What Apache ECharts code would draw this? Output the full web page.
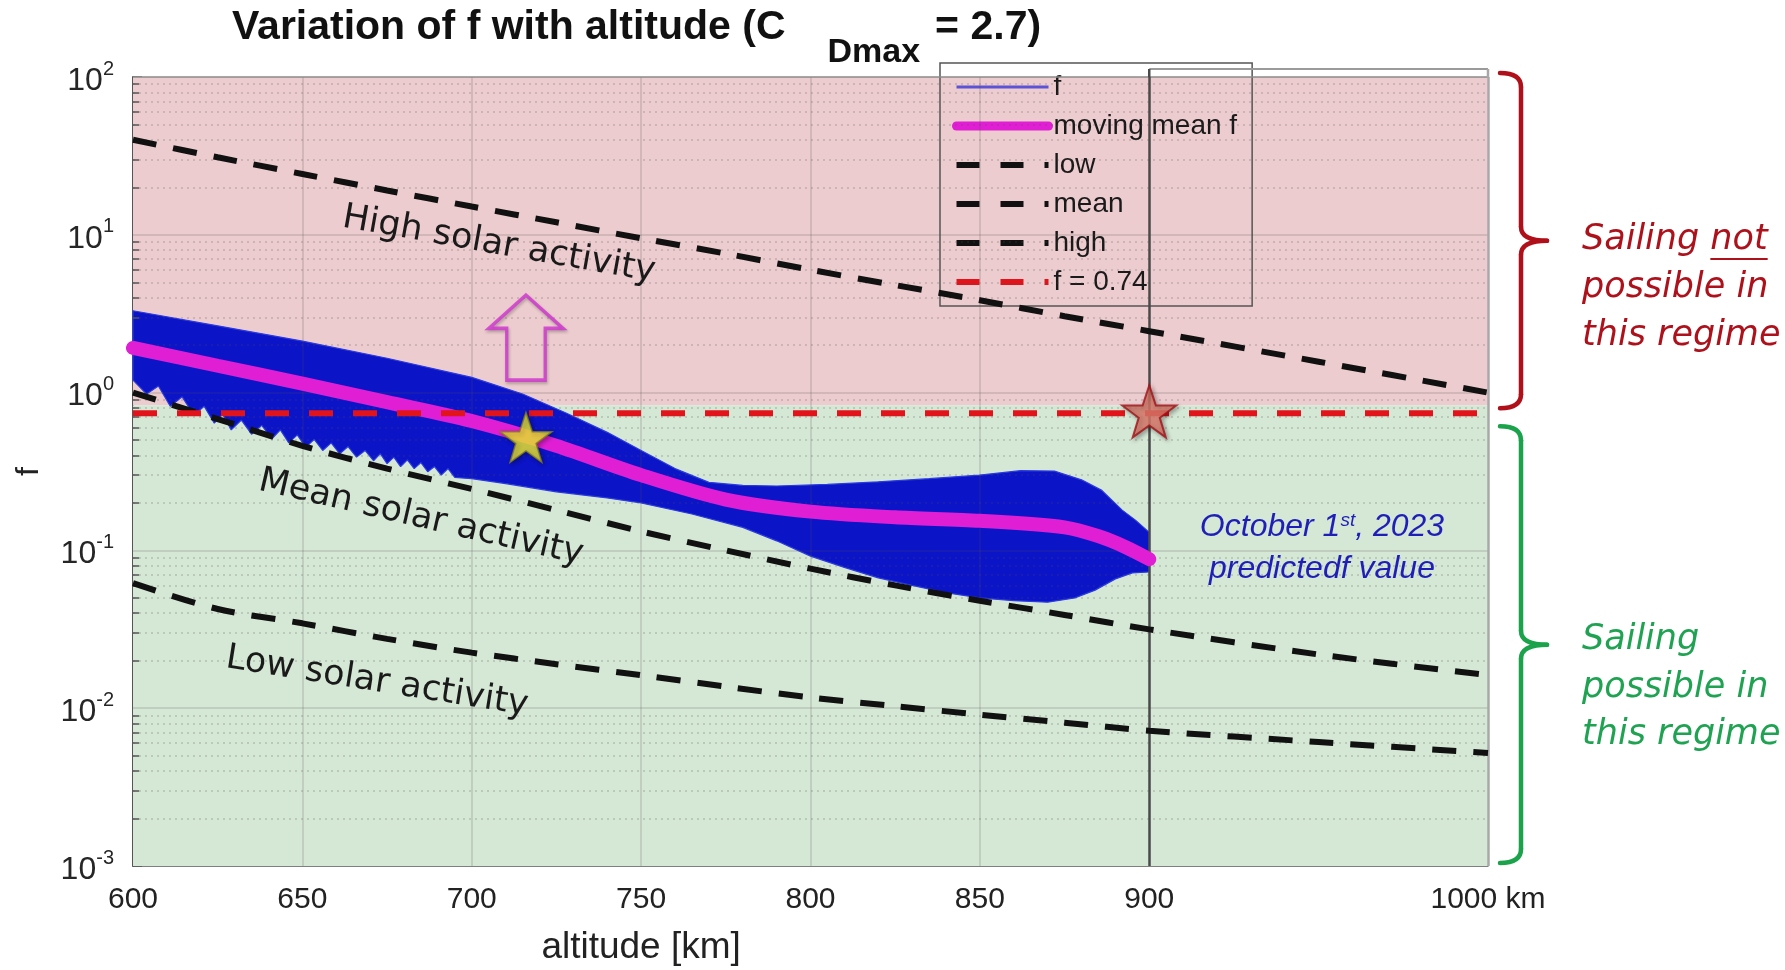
<!DOCTYPE html>
<html>
<head>
<meta charset="utf-8">
<title>Variation of f with altitude</title>
<script src="https://cdn.jsdelivr.net/npm/echarts@6/dist/echarts.min.js"></script>
<style>
  html, body { margin: 0; padding: 0; background: #ffffff; }
  #chart { width: 1785px; height: 970px; }
</style>
</head>
<body>
<div id="chart"></div>
<script>
// ---- values ----
// solar activity reference curves
const altSteps     = [600, 625, 650, 675, 700, 725, 750, 775, 800, 825, 850, 875, 900, 950, 1000];
const lowActivity  = [0.062, 0.0425, 0.0345, 0.0275, 0.0225, 0.019, 0.0162, 0.0137, 0.0117, 0.0103, 0.0091, 0.0081, 0.0072, 0.0061, 0.0052];
const meanActivity = [1.0, 0.68, 0.46, 0.33, 0.245, 0.18, 0.132, 0.100, 0.0766, 0.060, 0.048, 0.039, 0.0316, 0.0219, 0.0162];
const highActivity = [40, 31, 24.3, 19.1, 15.1, 12.0, 9.5, 7.6, 6.0, 4.8, 3.85, 3.05, 2.45, 1.57, 1.0];

// moving mean of f
const meanAlt     = [600, 625, 650, 675, 700, 725, 750, 775, 800, 825, 850, 875, 885, 893, 900];
const movingMeanF = [1.92, 1.48, 1.14, 0.87, 0.66, 0.46, 0.30, 0.21, 0.176, 0.162, 0.154, 0.14, 0.123, 0.105, 0.088];

// envelope of the oscillating f signal: upper edge, then lower edge with its teeth
const bandUpperAlt = [600, 625, 650, 675, 700, 715, 728, 740, 750, 760, 770, 780, 790, 805, 820, 835, 850, 862, 872, 880, 886, 892, 896, 900];
const bandUpper    = [3.3, 2.65, 2.12, 1.65, 1.25, 0.98, 0.74, 0.56, 0.43, 0.33, 0.27, 0.258, 0.256, 0.262, 0.272, 0.285, 0.30, 0.32, 0.318, 0.28, 0.24, 0.18, 0.155, 0.13];
const bandLowerAlt = [600, 604, 607.5, 611, 614.5, 618, 621, 624, 626.5, 629, 632, 635, 638, 641, 643.5, 646, 648.5, 651, 653.5, 656,
                      658.5, 661, 663.5, 666, 668.5, 671, 673, 675, 677, 679, 681, 683, 685, 687, 689, 691, 693, 695, 700, 710,
                      725, 740, 750, 765, 780, 790, 800, 810, 820, 830, 840, 850, 860, 870, 878, 884, 890, 895, 900];
const bandLower    = [1.2, 0.98, 1.10, 0.82, 0.94, 0.72, 0.82, 0.64, 0.73, 0.58, 0.67, 0.545, 0.62, 0.51, 0.58, 0.48, 0.54, 0.45, 0.505, 0.43,
                      0.48, 0.41, 0.455, 0.39, 0.43, 0.37, 0.41, 0.355, 0.39, 0.34, 0.375, 0.33, 0.36, 0.315, 0.34, 0.30, 0.33, 0.29, 0.285, 0.265,
                      0.235, 0.215, 0.2, 0.17, 0.14, 0.115, 0.092, 0.078, 0.067, 0.06, 0.054, 0.05, 0.048, 0.047, 0.05, 0.056, 0.066, 0.072, 0.073];

const fThreshold  = 0.74;   // f = 0.74 line
const regimeSplit = 0.83;   // where the shading turns from red to green
const yellowStar  = [716, 0.52];
const redStar     = [900, 0.76];
const upArrow     = [716, 2.23];

// axes
const xTicks     = [600, 650, 700, 750, 800, 850, 900, 1000];
const xGridAt    = [650, 700, 750, 800, 850];
const majorGridY = [0.01, 0.1, 1, 10];
const decades    = [0.001, 0.01, 0.1, 1, 10];
const minorMul   = [2, 3, 4, 5, 6, 7, 8, 9];

const sans  = '"Liberation Sans", Arial, sans-serif';
const round = '"DejaVu Sans", sans-serif';

const pairs = (xs, ys) => xs.map((x, i) => [x, ys[i]]);
const bandOutline = pairs(bandUpperAlt, bandUpper).concat(pairs(bandLowerAlt, bandLower).reverse());
const minorValues = [];
decades.forEach(d => minorMul.forEach(m => minorValues.push(Number((d * m).toPrecision(3)))));

const dashed = (color) => ({ color: color, width: 6, type: [24, 17] });
const starPath = 'path://M50,0 L61.8,35.1 L98.1,35.1 L68.8,56.7 L79.4,91 L50,70 L20.6,91 L31.2,56.7 L1.9,35.1 L38.2,35.1 Z';
const arrowPath = 'path://M50,0 L100,39 L76,39 L76,100 L24,100 L24,39 L0,39 Z';
const legendDash = () => ({ type: [23, 21], width: 6 });

// helper series that only carry mark lines (grid, ticks, frame)
function lineLayer(z, items, style) {
  return {
    type: 'line', data: [], z: z, silent: true,
    markLine: {
      silent: true, symbol: ['none', 'none'], label: { show: false }, animation: false,
      precision: 10, lineStyle: style, data: items
    }
  };
}

const chart = echarts.init(document.getElementById('chart'));

chart.setOption({
  animation: false,
  title: {
    left: 232, top: 7, padding: 0,
    text: '{a|Variation of f with altitude (C}{b|Dmax}{a|= 2.7)}',
    textStyle: {
      rich: {
        a: { fontSize: 41, fontWeight: 'bold', fontFamily: sans, color: '#111', lineHeight: 46, verticalAlign: 'top' },
        b: { fontSize: 34, fontWeight: 'bold', fontFamily: sans, color: '#111', lineHeight: 40, verticalAlign: 'top', padding: [29, 15, 0, 42] }
      }
    }
  },
  legend: {
    orient: 'vertical', left: 940, top: 63,
    padding: [9, 15, 9, 12], itemWidth: 92, itemHeight: 20, itemGap: 9,
    borderColor: '#555', borderWidth: 1.5, backgroundColor: 'transparent',
    selectedMode: false,
    itemStyle: { color: 'rgba(0,0,0,0)', borderColor: 'rgba(0,0,0,0)', borderWidth: 0 },
    textStyle: { fontSize: 28, fontFamily: sans, color: '#1a1a1a', lineHeight: 30 },
    data: [
      { name: 'f', lineStyle: { width: 3, color: '#5b52d4' } },
      { name: 'moving mean f', lineStyle: { width: 9 } },
      { name: 'low', lineStyle: legendDash() },
      { name: 'mean', lineStyle: legendDash() },
      { name: 'high', lineStyle: legendDash() },
      { name: 'f = 0.74', lineStyle: legendDash() }
    ]
  },
  grid: { left: 133, top: 77, width: 1355, height: 789 },
  xAxis: {
    type: 'value', min: 600, max: 1000, interval: 50,
    axisLine: { lineStyle: { color: '#555', width: 1.5 } },
    axisTick: { show: false },
    splitLine: { show: false },
    axisLabel: {
      margin: 19, fontSize: 30, fontFamily: sans, color: '#222',
      formatter: v => xTicks.includes(v) ? (v === 1000 ? v + ' km' : String(v)) : ''
    }
  },
  yAxis: {
    type: 'log', logBase: 10, min: 0.001, max: 100, splitNumber: 5,
    name: 'f', nameLocation: 'middle', nameGap: 88,
    nameTextStyle: { fontSize: 32, fontFamily: sans, color: '#222' },
    axisLine: { show: true, lineStyle: { color: '#555', width: 2 } },
    axisTick: { show: true, inside: true, length: 9, lineStyle: { color: '#555', width: 1.5 } },
    splitLine: { show: false },
    minorTick: { show: false },
    minorSplitLine: { show: false },
    axisLabel: {
      margin: 19,
      formatter: v => '{b|10}{s|' + Math.round(Math.log10(v)) + '}',
      rich: {
        b: { fontSize: 32, fontFamily: sans, color: '#262626', lineHeight: 36, verticalAlign: 'top', padding: [6, 0, 0, 0] },
        s: { fontSize: 20, fontFamily: sans, color: '#262626', lineHeight: 24, verticalAlign: 'top' }
      }
    }
  },
  series: [
    { // regime shading
      type: 'line', data: [], z: 1, silent: true,
      markArea: {
        silent: true, label: { show: false }, itemStyle: { opacity: 1 },
        data: [
          [{ xAxis: 600, yAxis: regimeSplit, itemStyle: { color: '#ecccce' } }, { xAxis: 1000, yAxis: 100 }],
          [{ xAxis: 600, yAxis: 0.001, itemStyle: { color: '#d5e7d5' } }, { xAxis: 1000, yAxis: regimeSplit }]
        ]
      }
    },
    lineLayer(2, xGridAt.map(x => ({ xAxis: x })), { color: 'rgba(80,80,80,0.22)', width: 1.5, type: 'solid' }),
    lineLayer(2, majorGridY.map(y => ({ yAxis: y })), { color: 'rgba(80,80,80,0.22)', width: 1.5, type: 'solid' }),
    lineLayer(2, minorValues.map(y => ({ yAxis: y })), { color: 'rgba(80,80,80,0.26)', width: 1.5, type: [2, 4] }),
    lineLayer(2, minorValues.map(y => [{ coord: [600, y] }, { coord: [601.8, y] }]), { color: '#555', width: 1.5, type: 'solid' }),
    {
      name: 'f', type: 'line', data: bandOutline.concat([bandOutline[0]]), z: 4,
      symbol: 'none', silent: true,
      lineStyle: { color: '#2a3ae0', width: 1.2 }, itemStyle: { color: '#2a3ae0' }
    },
    {
      name: 'f', type: 'custom', data: bandOutline, z: 3, silent: true,
      encode: { x: 0, y: 1 },
      itemStyle: { color: '#0c14c8' },
      renderItem: function (params, api) {
        if (params.dataIndexInside !== 0) return null;
        const pts = [];
        for (let i = 0; i < params.dataInsideLength; i++) {
          pts.push(api.coord([api.value(0, i), api.value(1, i)]));
        }
        return { type: 'polygon', shape: { points: pts }, style: { fill: '#0c14c8' } };
      }
    },
    {
      name: 'moving mean f', type: 'line', data: pairs(meanAlt, movingMeanF), z: 5,
      symbol: 'none', smooth: 0.3,
      lineStyle: { color: '#e01fd4', width: 14, cap: 'round' }, itemStyle: { color: '#e01fd4' }
    },
    {
      name: 'low', type: 'line', data: pairs(altSteps, lowActivity), z: 6,
      symbol: 'none', smooth: 0.3, lineStyle: dashed('#111'), itemStyle: { color: '#111' }
    },
    {
      name: 'mean', type: 'line', data: pairs(altSteps, meanActivity), z: 6,
      symbol: 'none', smooth: 0.3, lineStyle: dashed('#111'), itemStyle: { color: '#111' }
    },
    {
      name: 'high', type: 'line', data: pairs(altSteps, highActivity), z: 6,
      symbol: 'none', smooth: 0.3, lineStyle: dashed('#111'), itemStyle: { color: '#111' }
    },
    {
      name: 'f = 0.74', type: 'line', data: [[600, fThreshold], [1000, fThreshold]], z: 6,
      symbol: 'none', lineStyle: { color: '#e0141a', width: 6, type: [24, 20] }, itemStyle: { color: '#e0141a' }
    },
    // frame of the 900-1000 km extension
    lineLayer(7, [{ yAxis: 100 }], { color: '#8a8a8a', width: 1.5, type: 'solid' }),
    lineLayer(7, [{ xAxis: 1000 }], { color: '#a8a8a8', width: 2.5, type: 'solid' }),
    lineLayer(7, [{ xAxis: 900 }], { color: '#4a4a4a', width: 2.5, type: 'solid' }),
    {
      type: 'scatter', z: 8, silent: true, symbol: starPath, symbolSize: [52, 50],
      data: [yellowStar],
      itemStyle: { color: '#f4ee30', borderColor: '#7d7a18', borderWidth: 1.5, shadowBlur: 4, shadowColor: 'rgba(0,0,0,0.35)', shadowOffsetX: 2, shadowOffsetY: 2 }
    },
    {
      type: 'scatter', z: 8, silent: true, symbol: starPath, symbolSize: [54, 52],
      data: [redStar],
      itemStyle: { color: '#e07a6c', borderColor: '#a01218', borderWidth: 2, shadowBlur: 4, shadowColor: 'rgba(0,0,0,0.35)', shadowOffsetX: 2, shadowOffsetY: 2 }
    },
    {
      type: 'scatter', z: 8, silent: true, symbol: arrowPath, symbolSize: [74, 85],
      data: [upArrow],
      itemStyle: { color: 'rgba(0,0,0,0)', borderColor: '#cf33cf', borderWidth: 3.5, shadowBlur: 3, shadowColor: 'rgba(0,0,0,0.3)', shadowOffsetX: 1, shadowOffsetY: 2 }
    }
  ]
});

// annotations outside the data: brackets, regime texts, axis name
const toPx = (x, y) => chart.convertToPixel({ gridIndex: 0 }, [x, y]);
const [x900, yTop] = toPx(900, 100);
const [xEnd, yBottom] = toPx(1000, 0.001);
const ySplit = toPx(600, regimeSplit)[1];

function bracket(yA, yB, color) {
  const xHook = xEnd + 12, xSpine = xEnd + 33, xTip = xEnd + 59, r = 14;
  const yMid = (yA + yB) / 2;
  const st = { stroke: color, lineWidth: 4.5, fill: null, lineCap: 'round' };
  return [
    { type: 'bezierCurve', shape: { x1: xHook, y1: yA, cpx1: xSpine, cpy1: yA, x2: xSpine, y2: yA + r }, style: st },
    { type: 'line', shape: { x1: xSpine, y1: yA + r, x2: xSpine, y2: yMid - r }, style: st },
    { type: 'bezierCurve', shape: { x1: xSpine, y1: yMid - r, cpx1: xSpine, cpy1: yMid, x2: xTip, y2: yMid }, style: st },
    { type: 'bezierCurve', shape: { x1: xTip, y1: yMid, cpx1: xSpine, cpy1: yMid, x2: xSpine, y2: yMid + r }, style: st },
    { type: 'line', shape: { x1: xSpine, y1: yMid + r, x2: xSpine, y2: yB - r }, style: st },
    { type: 'bezierCurve', shape: { x1: xSpine, y1: yB - r, cpx1: xSpine, cpy1: yB, x2: xHook, y2: yB }, style: st }
  ];
}

function label(text, x, y, font, color, rot) {
  return {
    type: 'text', x: x, y: y, rotation: (rot || 0) * Math.PI / 180, z: 100,
    style: { text: text, font: font, fill: color, align: rot === undefined ? 'left' : 'center', verticalAlign: 'middle' }
  };
}

const regimeFont = 'italic 35px ' + round;
const ctx = document.createElement('canvas').getContext('2d');
ctx.font = regimeFont;
const notStart = 1582 + ctx.measureText('Sailing ').width;
const notEnd = notStart + ctx.measureText('not').width;
const red = '#ad121c', green = '#1fa352', blue = '#1f1fb8';

chart.setOption({
  graphic: [].concat(
    [
      { type: 'line', shape: { x1: x900, y1: yTop - 8, x2: xEnd, y2: yTop - 8 }, style: { stroke: '#9a9a9a', lineWidth: 2 }, z: 50 },
      { type: 'line', shape: { x1: x900, y1: yTop - 8, x2: x900, y2: yTop }, style: { stroke: '#4a4a4a', lineWidth: 2.5 }, z: 50 },
      { type: 'line', shape: { x1: xEnd, y1: yTop - 8, x2: xEnd, y2: yTop }, style: { stroke: '#a8a8a8', lineWidth: 2.5 }, z: 50 }
    ],
    bracket(yTop - 4, ySplit + 3, '#b0101a'),
    bracket(ySplit + 21, yBottom - 3, '#1aa34a'),
    [
      label('High solar activity', 499, 245, '35px ' + round, '#1a1a1a', -10),
      label('Mean solar activity', 421, 518, '35px ' + round, '#1a1a1a', -13),
      label('Low solar activity', 377, 682, '35px ' + round, '#1a1a1a', -9),
      label('Sailing not', 1582, 240, regimeFont, red),
      label('possible in', 1582, 288, regimeFont, red),
      label('this regime', 1582, 336, regimeFont, red),
      { type: 'line', shape: { x1: notStart, y1: 259, x2: notEnd, y2: 259 }, style: { stroke: red, lineWidth: 2 }, z: 100 },
      label('Sailing', 1582, 640, regimeFont, green),
      label('possible in', 1582, 688, regimeFont, green),
      label('this regime', 1582, 735, regimeFont, green),
      {
        type: 'text', x: 1322, y: 530, z: 100,
        style: {
          text: '{a|October 1}{s|st}{a|, 2023}', align: 'center', verticalAlign: 'middle',
          rich: {
            a: { font: 'italic 32px ' + sans, fill: blue, lineHeight: 38, verticalAlign: 'top' },
            s: { font: 'italic 19px ' + sans, fill: blue, lineHeight: 21, verticalAlign: 'top' }
          }
        }
      },
      label('predictedf value', 1322, 569, 'italic 32px ' + sans, blue, 0),
      label('altitude [km]', toPx(750, 1)[0], 948, '37px ' + sans, '#222', 0)
    ]
  )
});
</script>
</body>
</html>
